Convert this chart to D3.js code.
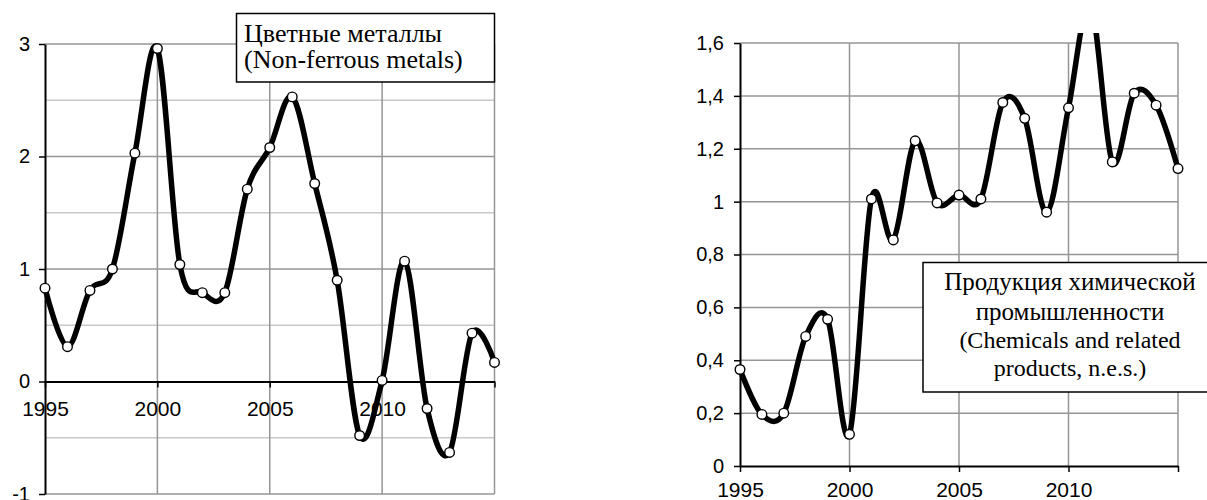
<!DOCTYPE html>
<html>
<head>
<meta charset="utf-8">
<script src="https://cdn.jsdelivr.net/npm/d3@7"></script>
<style>
  body { margin: 0; background: #fff; }
  svg { display: block; }
</style>
</head>
<body>
<svg id="chart" width="1207" height="500"></svg>
<script>
// data
const years = [1995, 1996, 1997, 1998, 1999, 2000, 2001, 2002, 2003, 2004, 2005,
               2006, 2007, 2008, 2009, 2010, 2011, 2012, 2013, 2014, 2015];
const nonFerrous = [0.83, 0.31, 0.81, 1.0, 2.03, 2.96, 1.04, 0.79, 0.79, 1.71, 2.08,
                    2.53, 1.76, 0.90, -0.48, 0.01, 1.07, -0.24, -0.63, 0.43, 0.17];
const chemicals = [0.365, 0.195, 0.2, 0.49, 0.555, 0.12, 1.01, 0.855, 1.23, 0.995, 1.025,
                   1.01, 1.375, 1.315, 0.96, 1.355, 1.75, 1.15, 1.41, 1.365, 1.125];

const xTicks = [1995, 2000, 2005, 2010, 2015];
const xTickLabels = ['1995', '2000', '2005', '2010', ''];
const leftYTicks = [-1, 0, 1, 2, 3];
const leftYMinor = [-0.5, 0.5, 1.5, 2.5];
const rightYTicks = [0, 0.2, 0.4, 0.6, 0.8, 1, 1.2, 1.4, 1.6];

const leftTitle = ['Цветные металлы', '(Non-ferrous metals)'];
const rightTitle = ['Продукция химической', 'промышленности', '(Chemicals and related', 'products, n.e.s.)'];

const svg = d3.select('#chart');
const sans = '"Liberation Sans", Arial, sans-serif';
const serif = '"Liberation Serif", "Times New Roman", serif';

function drawPanel(p) {
    const x = d3.scaleLinear().domain([1995, 2015]).range([p.left, p.right]);
    const y = d3.scaleLinear().domain(p.yDomain).range([p.bottom, p.top]);
    const g = svg.append('g');

    // light minor gridlines
    g.selectAll('.minor')
      .data(p.minor)
      .enter().append('line')
      .attr('x1', p.left).attr('x2', p.right)
      .attr('y1', d => y(d)).attr('y2', d => y(d))
      .attr('stroke', '#c8c8c8').attr('stroke-width', 1.5);

    // major horizontal gridlines (not the zero line, that is the axis)
    g.selectAll('.hgrid')
      .data(p.yTicks.filter(d => d !== 0))
      .enter().append('line')
      .attr('x1', p.left).attr('x2', p.right)
      .attr('y1', d => y(d)).attr('y2', d => y(d))
      .attr('stroke', '#969696').attr('stroke-width', 1.5);

    // vertical gridlines
    g.selectAll('.vgrid')
      .data(xTicks.slice(1))
      .enter().append('line')
      .attr('x1', d => x(d)).attr('x2', d => x(d))
      .attr('y1', p.top).attr('y2', p.bottom)
      .attr('stroke', '#969696').attr('stroke-width', 1.5);

    // y axis on the left
    const yAxis = d3.axisLeft(y).tickValues(p.yTicks).tickSize(6).tickSizeOuter(0)
      .tickFormat(p.fmt);
    const ya = g.append('g').attr('transform', 'translate(' + p.left + ',0)').call(yAxis);
    ya.select('.domain').attr('stroke', '#000').attr('stroke-width', 2);
    ya.selectAll('.tick line').attr('stroke', '#000').attr('stroke-width', 1.5);
    ya.selectAll('.tick text')
      .attr('x', -p.labelGap)
      .style('font-family', sans).style('font-size', p.yFont + 'px').attr('fill', '#000');

    // x axis drawn at zero
    const xAxis = d3.axisBottom(x).tickValues(xTicks).tickSize(6).tickSizeOuter(0)
      .tickFormat((d, i) => xTickLabels[i]);
    const xa = g.append('g').attr('transform', 'translate(0,' + y(0) + ')').call(xAxis);
    xa.select('.domain').attr('stroke', '#000').attr('stroke-width', 2);
    xa.selectAll('.tick line').attr('stroke', '#000').attr('stroke-width', 1.5);
    xa.selectAll('.tick text')
      .attr('y', p.xLabelDy).attr('dy', 0)
      .style('font-family', sans).style('font-size', p.xFont + 'px').attr('fill', '#000');

    // clip the line a little above the plot area
    svg.append('clipPath').attr('id', p.id)
      .append('rect')
      .attr('x', 0).attr('width', 1207)
      .attr('y', p.clipTop).attr('height', p.bottom - p.clipTop + 10);

    const line = d3.line()
      .x((d, i) => x(years[i]))
      .y(d => y(d))
      .curve(d3.curveCatmullRom.alpha(0));

    const lg = g.append('g').attr('clip-path', 'url(#' + p.id + ')');
    lg.append('path')
      .datum(p.values)
      .attr('d', line)
      .attr('fill', 'none')
      .attr('stroke', '#000')
      .attr('stroke-width', 5.5)
      .attr('stroke-linejoin', 'round');

    lg.selectAll('circle')
      .data(p.values)
      .enter().append('circle')
      .attr('cx', (d, i) => x(years[i]))
      .attr('cy', d => y(d))
      .attr('r', 4.8)
      .attr('fill', '#fff')
      .attr('stroke', '#000')
      .attr('stroke-width', 1.4);

    // title box
    const b = p.box;
    svg.append('rect')
      .attr('x', b.x).attr('y', b.y).attr('width', b.w).attr('height', b.h)
      .attr('fill', '#fff').attr('stroke', '#000').attr('stroke-width', 1.5);
    svg.selectAll(null)
      .data(b.lines)
      .enter().append('text')
      .attr('x', b.tx)
      .attr('y', (d, i) => b.baselines[i])
      .attr('text-anchor', b.anchor)
      .style('font-family', serif)
      .style('font-size', (d, i) => b.sizes[i] + 'px')
      .attr('fill', '#000')
      .text(d => d);
}

drawPanel({
    id: 'clipLeft',
    left: 45, right: 494.5, top: 44, bottom: 494,
    yDomain: [-1, 3], yTicks: leftYTicks, minor: leftYMinor,
    fmt: d => String(d),
    labelGap: 15, yFont: 20, xFont: 21, xLabelDy: 34,
    clipTop: 30, values: nonFerrous,
    box: {x: 236.5, y: 13.5, w: 258, h: 68.5, tx: 244, anchor: 'start',
          lines: leftTitle, baselines: [42, 68], sizes: [26, 26]}
});

drawPanel({
    id: 'clipRight',
    left: 740, right: 1178, top: 43, bottom: 466,
    yDomain: [0, 1.6], yTicks: rightYTicks, minor: [],
    fmt: d => String(d).replace('.', ','),
    labelGap: 16, yFont: 20, xFont: 21, xLabelDy: 31,
    clipTop: 33, values: chemicals,
    box: {x: 923, y: 262.5, w: 300, h: 129.5, tx: 1070, anchor: 'middle',
          lines: rightTitle, baselines: [290, 320, 348, 376], sizes: [25, 25, 24, 24]}
});
</script>
</body>
</html>
